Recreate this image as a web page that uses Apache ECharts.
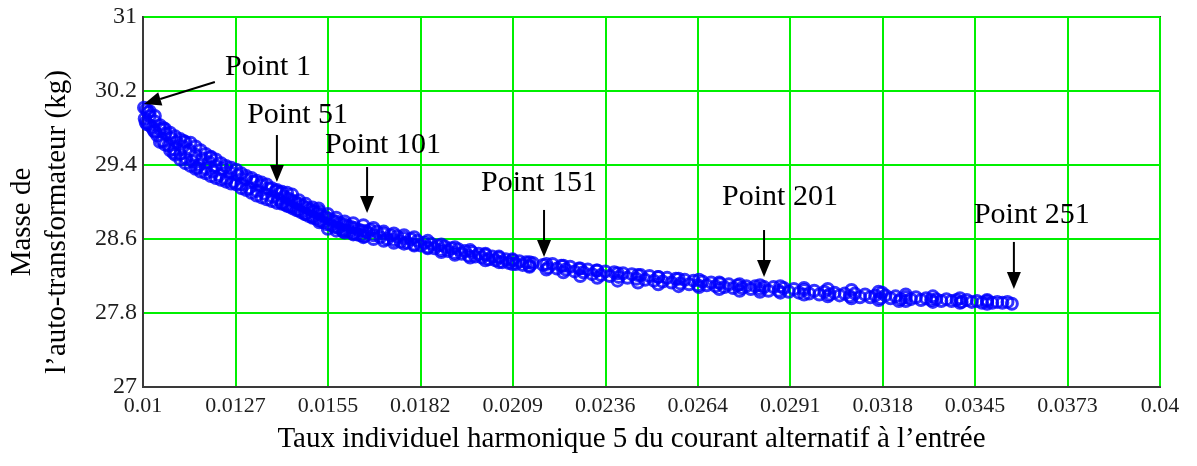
<!DOCTYPE html>
<html>
<head>
<meta charset="utf-8">
<script src="https://cdn.jsdelivr.net/npm/echarts@6/dist/echarts.min.js"></script>
<style>html,body{margin:0;padding:0;background:#fff}#chart{width:1197px;height:466px}</style>
</head>
<body>
<div id="chart"></div>
<script>
// Taux individuel harmonique 5 (x) for points 1..251
const harmonicRate = [
  0.01005,0.01010,0.01012,0.01015,0.01020,0.01028,0.01032,0.01035,0.01042,0.01050,
  0.01058,0.01060,0.01066,0.01075,0.01083,0.01090,0.01092,0.01100,0.01110,0.01118,
  0.01120,0.01127,0.01137,0.01146,0.01155,0.01160,0.01165,0.01175,0.01185,0.01195,
  0.01200,0.01205,0.01215,0.01225,0.01236,0.01247,0.01258,0.01268,0.01280,0.01290,
  0.01302,0.01313,0.01325,0.01336,0.01348,0.01359,0.01370,0.01382,0.01392,0.01400,
  0.01405,0.01410,0.01416,0.01421,0.01427,0.01432,0.01438,0.01443,0.01449,0.01454,
  0.01460,0.01466,0.01471,0.01477,0.01482,0.01488,0.01493,0.01499,0.01504,0.01510,
  0.01515,0.01518,0.01521,0.01526,0.01532,0.01537,0.01543,0.01548,0.01554,0.01559,
  0.01565,0.01570,0.01576,0.01581,0.01587,0.01590,0.01592,0.01598,0.01603,0.01609,
  0.01614,0.01620,0.01625,0.01631,0.01636,0.01642,0.01647,0.01653,0.01658,0.01664,
  0.01670,0.01680,0.01690,0.01700,0.01710,0.01720,0.01730,0.01740,0.01750,0.01760,
  0.01770,0.01780,0.01790,0.01800,0.01810,0.01820,0.01830,0.01840,0.01850,0.01860,
  0.01870,0.01880,0.01890,0.01900,0.01910,0.01920,0.01930,0.01940,0.01950,0.01960,
  0.01970,0.01980,0.01990,0.02000,0.02010,0.02020,0.02030,0.02040,0.02050,0.02060,
  0.02070,0.02080,0.02090,0.02100,0.02110,0.02120,0.02130,0.02140,0.02150,0.02180,
  0.02195,0.02208,0.02221,0.02234,0.02247,0.02260,0.02273,0.02286,0.02299,0.02312,
  0.02325,0.02338,0.02351,0.02364,0.02377,0.02390,0.02403,0.02416,0.02429,0.02442,
  0.02455,0.02468,0.02481,0.02494,0.02507,0.02520,0.02533,0.02546,0.02559,0.02572,
  0.02585,0.02598,0.02611,0.02624,0.02637,0.02650,0.02663,0.02676,0.02689,0.02702,
  0.02715,0.02728,0.02741,0.02754,0.02767,0.02780,0.02793,0.02806,0.02819,0.02832,
  0.02845,0.02860,0.02875,0.02890,0.02905,0.02920,0.02935,0.02950,0.02965,0.02980,
  0.02995,0.03010,0.03025,0.03040,0.03055,0.03070,0.03085,0.03100,0.03115,0.03130,
  0.03145,0.03160,0.03175,0.03180,0.03190,0.03205,0.03220,0.03230,0.03235,0.03250,
  0.03265,0.03280,0.03295,0.03310,0.03325,0.03340,0.03355,0.03370,0.03385,0.03400,
  0.03415,0.03430,0.03445,0.03460,0.03475,0.03490,0.03505,0.03520,0.03535,0.03550,
  0.03563
];
// Masse de l'auto-transformateur (kg)
const massKg = [
  29.90,30.00,29.84,29.97,29.93,29.80,29.77,29.87,29.72,29.79,
  29.66,29.80,29.74,29.61,29.69,29.53,29.57,29.65,29.52,29.60,
  29.66,29.47,29.56,29.44,29.51,29.37,29.40,29.47,29.36,29.43,
  29.48,29.33,29.39,29.29,29.36,29.25,29.32,29.22,29.29,29.19,
  29.25,29.15,29.22,29.12,29.18,29.09,29.15,29.06,29.12,29.03,
  29.10,28.99,29.06,28.97,29.04,28.95,29.02,28.93,29.00,28.91,
  28.98,28.89,28.96,28.87,28.94,28.85,28.92,28.84,28.90,28.82,
  28.88,28.93,28.80,28.86,28.78,28.84,28.76,28.82,28.75,28.80,
  28.73,28.79,28.72,28.77,28.70,28.68,28.76,28.69,28.74,28.68,
  28.73,28.66,28.72,28.65,28.70,28.64,28.69,28.63,28.68,28.67,
  28.70,28.64,28.68,28.62,28.66,28.60,28.64,28.59,28.63,28.57,
  28.61,28.56,28.60,28.54,28.58,28.53,28.56,28.51,28.55,28.50,
  28.53,28.48,28.52,28.47,28.50,28.45,28.49,28.44,28.47,28.42,
  28.46,28.41,28.44,28.40,28.43,28.38,28.41,28.37,28.40,28.35,
  28.38,28.34,28.37,28.33,28.36,28.32,28.35,28.31,28.34,28.32,
  28.29,28.33,28.28,28.31,28.27,28.30,28.25,28.28,28.24,28.27,
  28.22,28.26,28.21,28.25,28.20,28.24,28.19,28.23,28.18,28.22,
  28.17,28.21,28.16,28.20,28.15,28.19,28.14,28.18,28.13,28.17,
  28.12,28.16,28.11,28.15,28.10,28.14,28.10,28.13,28.09,28.12,
  28.08,28.11,28.07,28.10,28.07,28.09,28.06,28.09,28.06,28.08,
  28.04,28.08,28.04,28.07,28.03,28.06,28.02,28.05,28.01,28.04,
  28.00,28.03,28.00,28.02,27.99,28.01,27.98,28.01,27.97,28.00,
  27.97,27.99,27.96,28.02,27.99,27.96,27.98,27.93,27.95,27.97,
  27.95,27.97,27.94,27.96,27.94,27.95,27.93,27.95,27.93,27.94,
  27.92,27.94,27.92,27.93,27.91,27.93,27.91,27.92,27.91,27.92,
  27.90
];
// Further points read along the upper edge of the point cloud
const upperEdgeX = [
  0.01003,0.01020,0.01035,0.01050,0.01065,0.01080,0.01095,0.01110,0.01125,0.01140,
  0.01155,0.01170,0.01185,0.01200,0.01215,0.01230,0.01245,0.01260,0.01275,0.01290,
  0.01305,0.01320,0.01335,0.01350,0.01365,0.01380,0.01395,0.01410,0.01425,0.01440,
  0.01460,0.01480,0.01500,0.01520,0.01545,0.01570,0.01595,0.01620,0.01650,0.01680,
  0.01710,0.01740,0.01770,0.01800,0.01840,0.01880,0.01920,0.01965,0.02010,0.02050,
  0.02090,0.02140,0.02190,0.02240,0.02290,0.02340,0.02400,0.02460,0.02520,0.02580,
  0.02640,0.02700,0.02760,0.02820,0.02880,0.02950,0.03020,0.03090,0.03170,0.03250,
  0.03330,0.03410,0.03490
];
const upperEdgeY = [
  30.02,29.98,29.93,29.83,29.79,29.75,29.71,29.68,29.65,29.64,
  29.60,29.56,29.52,29.49,29.46,29.42,29.39,29.37,29.35,29.31,
  29.28,29.26,29.23,29.21,29.19,29.15,29.13,29.11,29.10,29.08,
  29.02,28.98,28.94,28.90,28.87,28.83,28.79,28.77,28.75,28.72,
  28.68,28.66,28.64,28.62,28.58,28.54,28.51,28.48,28.44,28.41,
  28.38,28.35,28.33,28.31,28.28,28.26,28.23,28.21,28.19,28.17,
  28.16,28.13,28.11,28.10,28.09,28.07,28.06,28.05,28.03,28.00,
  27.98,27.96,27.94
];
// Further points read along the lower edge of the point cloud
const lowerEdgeX = [
  0.01008,0.01020,0.01035,0.01050,0.01065,0.01080,0.01095,0.01110,0.01125,0.01140,
  0.01155,0.01170,0.01185,0.01200,0.01215,0.01230,0.01245,0.01260,0.01275,0.01290,
  0.01305,0.01320,0.01335,0.01350,0.01365,0.01380,0.01395,0.01410,0.01425,0.01440,
  0.01460,0.01480,0.01500,0.01520,0.01545,0.01570,0.01595,0.01620,0.01650,0.01680,
  0.01710,0.01740,0.01770,0.01800,0.01840,0.01880,0.01920,0.01965,0.02010,0.02050,
  0.02090,0.02140,0.02190,0.02240,0.02290,0.02340,0.02400,0.02460,0.02520,0.02580,
  0.02640,0.02700,0.02760,0.02820,0.02880,0.02950,0.03020,0.03090,0.03170,0.03250,
  0.03330,0.03410,0.03490
];
const lowerEdgeY = [
  29.86,29.83,29.76,29.65,29.62,29.56,29.51,29.46,29.42,29.39,
  29.36,29.33,29.31,29.28,29.26,29.24,29.22,29.20,29.19,29.15,
  29.13,29.10,29.07,29.05,29.03,29.01,28.99,28.98,28.96,28.95,
  28.91,28.87,28.83,28.78,28.71,28.69,28.67,28.65,28.62,28.60,
  28.58,28.56,28.55,28.53,28.50,28.46,28.43,28.40,28.37,28.35,
  28.33,28.30,28.27,28.24,28.20,28.18,28.15,28.13,28.11,28.09,
  28.08,28.06,28.04,28.03,28.02,28.00,27.98,27.96,27.94,27.93,
  27.92,27.91,27.90
];

const xTickLabels = ['0.01','0.0127','0.0155','0.0182','0.0209','0.0236','0.0264','0.0291','0.0318','0.0345','0.0373','0.04'];
const yTickLabels = ['27','27.8','28.6','29.4','30.2','31'];

const annotations = [
  {text:'Point 1',   textAt:[0.01242,30.459], align:'left',   from:[0.01212,30.297], to:[0.01003,30.060]},
  {text:'Point 51',  textAt:[0.01456,29.941], align:'center', from:[0.01395,29.724], to:[0.01395,29.216]},
  {text:'Point 101', textAt:[0.01708,29.616], align:'center', from:[0.01661,29.378], to:[0.01661,28.881]},
  {text:'Point 151', textAt:[0.02168,29.205], align:'center', from:[0.02183,28.914], to:[0.02183,28.405]},
  {text:'Point 201', textAt:[0.02879,29.054], align:'center', from:[0.02832,28.697], to:[0.02832,28.189]},
  {text:'Point 251', textAt:[0.03622,28.859], align:'center', from:[0.03569,28.568], to:[0.03569,28.059]}
];

const xMin = 0.01, xMax = 0.04, yMin = 27, yMax = 31;
const xTickValues = xTickLabels.map((_, i) => xMin + i * (xMax - xMin) / (xTickLabels.length - 1));
const yTickValues = yTickLabels.map(Number);
const points = harmonicRate.map((x, i) => [x, massKg[i]])
  .concat(upperEdgeX.map((x, i) => [x, upperEdgeY[i]]))
  .concat(lowerEdgeX.map((x, i) => [x, lowerEdgeY[i]]));

const serif = 'Liberation Serif, Times New Roman, serif';
const chart = echarts.init(document.getElementById('chart'), null, {renderer: 'canvas'});

function nearestLabel(v, vals, labels) {
  let best = 0;
  for (let i = 1; i < vals.length; i++) if (Math.abs(vals[i] - v) < Math.abs(vals[best] - v)) best = i;
  return labels[best];
}

chart.setOption({
  animation: false,
  backgroundColor: '#ffffff',
  grid: {left: 143, right: 37, top: 17, bottom: 79, outerBoundsMode: 'none', containLabel: false,
    show: true, borderColor: '#3a3a3a', borderWidth: 2, backgroundColor: '#ffffff'},
  xAxis: {
    type: 'value', min: xMin, max: xMax,
    name: 'Taux individuel harmonique 5 du courant alternatif à l’entrée',
    nameLocation: 'middle', nameGap: 32,
    nameTextStyle: {fontFamily: serif, fontSize: 29, color: '#000', lineHeight: 35, padding: [0, 40, 0, 0]},
    axisLine: {show: true, lineStyle: {color: '#3a3a3a', width: 2}},
    axisTick: {show: false, customValues: xTickValues},
    axisLabel: {customValues: xTickValues, fontFamily: serif, fontSize: 22, color: '#1e1e1e', margin: 8,
      formatter: v => nearestLabel(v, xTickValues, xTickLabels)},
    splitLine: {show: true, lineStyle: {color: '#00f000', width: 2}}
  },
  yAxis: {
    type: 'value', min: yMin, max: yMax,
    name: 'Masse de\nl’auto-transformateur (kg)',
    nameLocation: 'middle', nameGap: 68, nameRotate: 90,
    nameTextStyle: {fontFamily: serif, fontSize: 29, color: '#000', lineHeight: 35, padding: [0, 40, 0, 0]},
    axisLine: {show: true, lineStyle: {color: '#3a3a3a', width: 2}},
    axisTick: {show: false, customValues: yTickValues},
    axisLabel: {customValues: yTickValues, fontFamily: serif, fontSize: 24, color: '#1e1e1e', margin: 6,
      formatter: v => nearestLabel(v, yTickValues, yTickLabels)},
    splitLine: {show: true, lineStyle: {color: '#00f000', width: 2}}
  },
  series: [{
    type: 'scatter',
    data: points,
    symbol: 'circle',
    symbolSize: 11,
    itemStyle: {color: 'rgba(0,0,0,0)', borderColor: '#0000ff', borderWidth: 3},
    emphasis: {disabled: true},
    z: 3
  }]
});

function px(c) { return chart.convertToPixel({gridIndex: 0}, c); }
const graphics = [];
annotations.forEach(a => {
  const t = px(a.textAt), f = px(a.from), e = px(a.to);
  graphics.push({type: 'text', z: 10, x: t[0], y: t[1], style: {text: a.text, font: '30px ' + serif, fill: '#000', align: a.align, verticalAlign: 'middle'}});
  const dx = e[0] - f[0], dy = e[1] - f[1], len = Math.hypot(dx, dy);
  const ux = dx / len, uy = dy / len, head = 17, hw = 7;
  const bx = e[0] - ux * head, by = e[1] - uy * head;
  graphics.push({type: 'line', z: 10, shape: {x1: f[0], y1: f[1], x2: bx, y2: by}, style: {stroke: '#000', lineWidth: 2}});
  graphics.push({type: 'polygon', z: 10, shape: {points: [[e[0], e[1]], [bx - uy * hw, by + ux * hw], [bx + uy * hw, by - ux * hw]]}, style: {fill: '#000'}});
});
chart.setOption({graphic: graphics});
</script>
</body>
</html>
